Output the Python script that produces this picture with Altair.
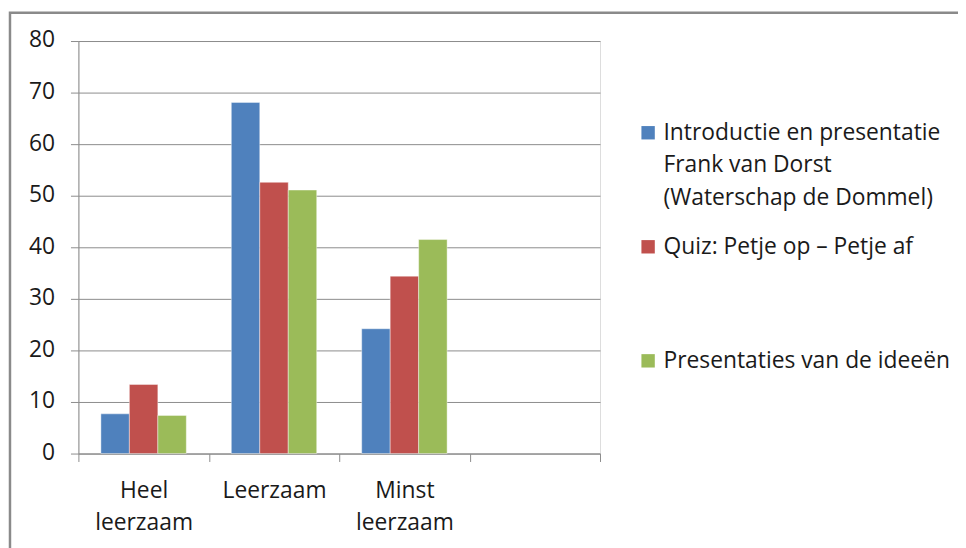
import altair as alt
import pandas as pd

# ---- data ----
categories = ["Heel leerzaam", "Leerzaam", "Minst leerzaam"]
empty_slot = "_"  # Excel reserves a fourth, empty category slot
series = [
    "Introductie en presentatie|Frank van Dorst|(Waterschap de Dommel)",
    "Quiz: Petje op – Petje af",
    "Presentaties van de ideeën",
]
intro_values = [7.7, 68.1, 24.2]
quiz_values = [13.4, 52.6, 34.4]
ideeen_values = [7.4, 51.1, 41.5]
colors = ["#4F81BD", "#C0504D", "#9BBB59"]
y_ticks = [0, 10, 20, 30, 40, 50, 60, 70, 80]

rows = []
for s, vals in zip(series, [intro_values, quiz_values, ideeen_values]):
    for c, v in zip(categories, vals):
        rows.append({"cat": c, "series": s, "value": v})
df = pd.DataFrame(rows)

FONT = "Open Sans"
FS = 23
TXT = "#1a1a1a"
GRID = "#8c8c8c"
DY = 7  # global guide-label shift (needed for legend alignment)

bars = alt.Chart(df).mark_bar(stroke="white", strokeWidth=0.6, strokeOpacity=0.7).encode(
    x=alt.X(
        "cat:N",
        scale=alt.Scale(domain=categories + [empty_slot], paddingInner=0, paddingOuter=0),
        axis=alt.Axis(
            title=None,
            labelAngle=0,
            labelExpr="datum.label == '_' ? '' : split(datum.label, ' ')",
            tickBand="extent",
            tickSize=8,
            tickColor=GRID,
            domainColor=GRID,
            labelPadding=11,
            labelFontSize=FS,
            labelLineHeight=33,
            labelFont=FONT,
            labelColor=TXT,
            grid=False,
        ),
    ),
    xOffset=alt.XOffset(
        "series:N", sort=series,
        scale=alt.Scale(domain=series, paddingInner=0, paddingOuter=0.79),
    ),
    y=alt.Y(
        "value:Q",
        scale=alt.Scale(domain=[0, 80], nice=False),
        axis=alt.Axis(
            title=None,
            values=y_ticks,
            grid=True,
            gridColor=GRID,
            gridWidth=1,
            tickSize=8,
            tickColor=GRID,
            domainColor=GRID,
            labelPadding=16,
            labelOffset=-DY - 1,
            labelFontSize=FS,
            labelFont=FONT,
            labelColor=TXT,
        ),
    ),
    color=alt.Color(
        "series:N",
        sort=series,
        scale=alt.Scale(domain=series, range=colors),
        legend=alt.Legend(
            title=None,
            orient="none",
            legendX=563,
            legendY=81,
            padding=0,
            symbolType="square",
            symbolSize=182,
            symbolStrokeWidth=0,
            labelFontSize=FS,
            labelFont=FONT,
            labelColor=TXT,
            labelBaseline="alphabetic",
            labelOffset=4,
            labelLimit=400,
            labelExpr="split(datum.label, '|')",
            gridAlign="all",
            rowPadding=25,
        ),
    ),
)

border = alt.Chart(pd.DataFrame({"a": [0]})).mark_rect(
    fillOpacity=0, stroke="#8a8a8a", strokeWidth=2.5
).encode(
    x=alt.value(-69), x2=alt.value(920), y=alt.value(-28.5), y2=alt.value(620)
)

chart = alt.layer(border, bars).properties(
    width=526,
    height=416,
    autosize=alt.AutoSizeParams(type="none"),
    padding={"left": 71, "top": 31, "right": 361, "bottom": 100},
).configure_view(stroke=None).configure(
    background="white",
    style={"guide-label": {"lineHeight": 33, "dy": DY}},
)

chart.save("out.html", embed_options={"renderer": "svg", "actions": False})
